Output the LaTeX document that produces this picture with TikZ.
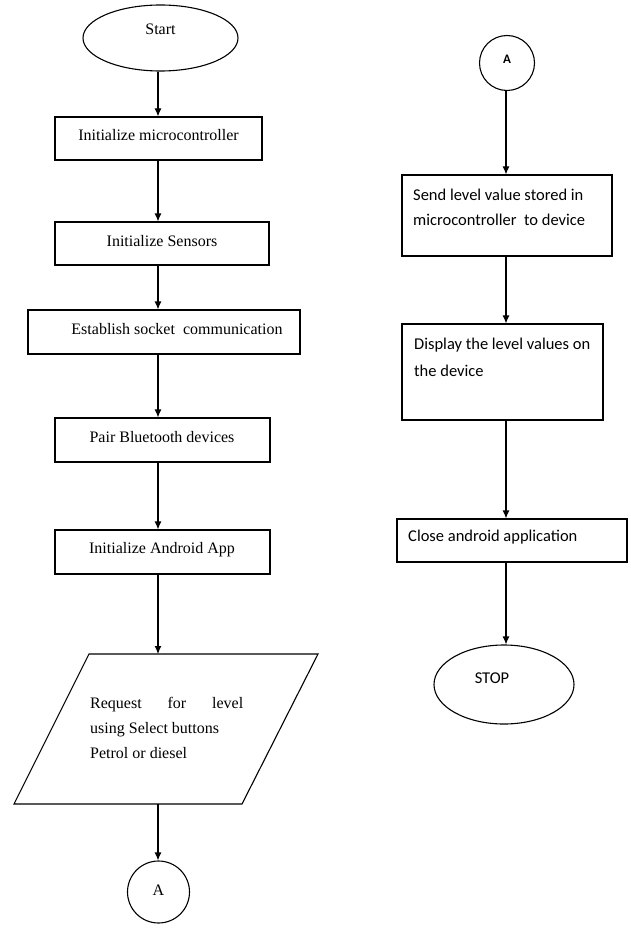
\documentclass[tikz,border=0pt]{standalone}
\usepackage{fontspec}
\setmainfont{Liberation Serif}
\newfontfamily\calibfont{Carlito}
\usetikzlibrary{shapes.geometric,arrows.meta}
\begin{document}
\begin{tikzpicture}[x=1pt,y=-1pt,
  every node/.style={inner sep=0pt},
  box/.style={draw,line width=1.1pt,rectangle},
  term/.style={draw,line width=1.1pt,ellipse},
  conn/.style={draw,line width=1.1pt,circle},
  io/.style={draw,line width=1.1pt,line join=miter},
  lbl/.style={anchor=base,font=\fontsize{16}{20}\selectfont},
  plbl/.style={anchor=base west,font=\fontsize{16}{20}\selectfont},
  rlbl/.style={anchor=base west,font=\calibfont\fontsize{16.5}{20}\selectfont},
  flow/.style={line width=1.1pt,-{Latex[length=8pt,width=7pt]}}]

\fill[white] (0,0) rectangle (630,928);
\useasboundingbox (0,0) rectangle (630,928);

% vertical axes of the two columns
\coordinate (axL) at (158,0);
\coordinate (axR) at (506,0);

% ---- left column ----
\node[term,minimum width=155pt,minimum height=66pt] (start) at (160.5,38) {};
\node[lbl] (tstart) at (160.5,35) {Start};

\node[box,minimum width=207pt,minimum height=43pt] (b1) at (158.5,138.5) {};
\node[lbl] (t1) at (158.5,141) {Initialize microcontroller};

\node[box,minimum width=214pt,minimum height=43pt] (b2) at (162,243.5) {};
\node[lbl] (t2) at (162,246) {Initialize Sensors};

\node[box,minimum width=272pt,minimum height=44pt] (b3) at (164,332) {};
\node[lbl] (t3) at (177,334) {Establish socket\ \ communication};

\node[box,minimum width=215pt,minimum height=44pt] (b4) at (162.5,440) {};
\node[lbl] (t4) at (162,442) {Pair Bluetooth devices};

\node[box,minimum width=215pt,minimum height=44pt] (b5) at (162.5,552) {};
\node[lbl] (t5) at (162,553) {Initialize Android App};

% input parallelogram
\coordinate (reqNW) at (89,654);
\coordinate (reqNE) at (318,654);
\coordinate (reqSE) at (242,804);
\coordinate (reqSW) at (14,804);
\draw[io] (reqNW) -- (reqNE) -- (reqSE) -- (reqSW) -- cycle;
\coordinate (reqtop) at (158,654);
\coordinate (reqbot) at (158,804);
\node[plbl] (p1) at (90,708) {\makebox[153pt][s]{Request for level}};
\node[plbl] (p2) at (90,733) {using Select buttons};
\node[plbl] (p3) at (90,758) {Petrol or diesel};

\node[conn,minimum size=62pt] (a1) at (158.5,892) {};
\node[lbl] (ta1) at (158.5,895) {A};

% ---- right column ----
\node[conn,minimum size=55pt] (a2) at (507,63) {};
\node[anchor=base,font=\calibfont\bfseries\fontsize{13}{15}\selectfont] (ta2) at (507,63.5) {A};

\node[box,minimum width=210pt,minimum height=81pt] (b6) at (507,215.5) {};
\node[rlbl] (t6a) at (413,200.5) {Send level value stored in};
\node[rlbl] (t6b) at (413,225) {microcontroller\ \ to device};

\node[box,minimum width=201pt,minimum height=96pt] (b7) at (502.5,372) {};
\node[rlbl] (t7a) at (414,349.5) {Display the level values on};
\node[rlbl] (t7b) at (414,376) {the device};

\node[box,minimum width=230pt,minimum height=43pt] (b8) at (512,540.5) {};
\node[rlbl] (t8) at (408,541.5) {Close android application};

\node[term,minimum width=140pt,minimum height=79pt] (stop) at (504,684.5) {};
\node[anchor=base,font=\calibfont\fontsize{16.5}{20}\selectfont] (tstop) at (492,683) {STOP};

% ---- connectors ----
\draw[flow] (start.south -| axL) -- (b1.north -| axL);
\draw[flow] (b1.south -| axL) -- (b2.north -| axL);
\draw[flow] (b2.south -| axL) -- (b3.north -| axL);
\draw[flow] (b3.south -| axL) -- (b4.north -| axL);
\draw[flow] (b4.south -| axL) -- (b5.north -| axL);
\draw[flow] (b5.south -| axL) -- (reqtop);
\draw[flow] (reqbot) -- (a1.north -| axL);

\draw[flow] (a2.south -| axR) -- (b6.north -| axR);
\draw[flow] (b6.south -| axR) -- (b7.north -| axR);
\draw[flow] (b7.south -| axR) -- (b8.north -| axR);
\draw[flow] (b8.south -| axR) -- (stop.north -| axR);
\end{tikzpicture}
\end{document}
